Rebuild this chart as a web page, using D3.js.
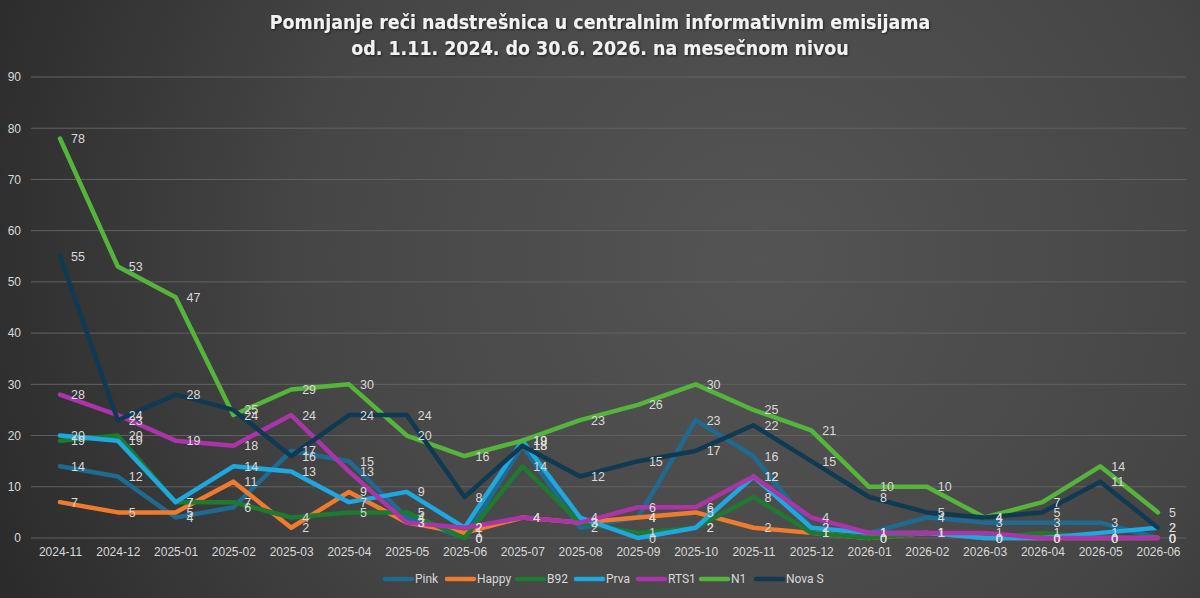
<!DOCTYPE html>
<html>
<head>
<meta charset="utf-8">
<script src="https://cdn.jsdelivr.net/npm/d3@7/dist/d3.min.js"></script>
<style>
html,body{margin:0;padding:0;background:#333;}
svg{display:block;}
</style>
</head>
<body>
<svg id="chart" width="1200" height="598"></svg>
<script>
const months = ["2024-11","2024-12","2025-01","2025-02","2025-03","2025-04","2025-05","2025-06","2025-07","2025-08","2025-09","2025-10","2025-11","2025-12","2026-01","2026-02","2026-03","2026-04","2026-05","2026-06"];
const yTicks = [0,10,20,30,40,50,60,70,80,90];
const seriesNames = ["Pink","Happy","B92","Prva","RTS1","N1","Nova S"];
const pink  = [14,12,4,6,17,15,4,0,18,2,4,23,16,2,1,4,3,3,3,0];
const happy = [7,5,5,11,2,9,3,1,4,3,4,5,2,1,0,1,0,0,0,0];
const b92   = [19,20,7,7,4,5,5,0,14,3,1,2,8,1,0,1,0,1,0,0];
const prva  = [20,19,7,14,13,7,9,2,19,4,0,2,12,2,1,1,0,0,1,2];
const rts1  = [28,24,19,18,24,13,3,2,4,3,6,6,12,4,1,1,1,0,0,0];
const n1    = [78,53,47,24,29,30,20,16,19,23,26,30,25,21,10,10,4,7,14,5];
const novaS = [55,23,28,25,16,24,24,8,18,12,15,17,22,15,8,5,4,5,11,2];
const seriesValues = [pink,happy,b92,prva,rts1,n1,novaS];
const colors = ["#1f6a91","#ef7b2e","#1d7a30","#1fa8df","#aa35a8","#55b53a","#103a52"];

const W = 1200, H = 598;
const svg = d3.select("#chart");

// background
const defs = svg.append("defs");
const rg = defs.append("radialGradient").attr("id","bg")
  .attr("gradientUnits","userSpaceOnUse")
  .attr("cx",760).attr("cy",260).attr("r",820);
rg.append("stop").attr("offset","0%").attr("stop-color","#545454");
rg.append("stop").attr("offset","55%").attr("stop-color","#464646");
rg.append("stop").attr("offset","100%").attr("stop-color","#2b2b2b");
svg.append("rect").attr("width",W).attr("height",H).attr("fill","url(#bg)");

const shadow = defs.append("filter").attr("id","tshadow");
shadow.append("feDropShadow").attr("dx",1).attr("dy",1).attr("stdDeviation",1).attr("flood-color","#000").attr("flood-opacity",0.6);

// title
const title = svg.append("text").attr("x",600).attr("text-anchor","middle")
  .attr("fill","#f2f2f2").attr("font-family","'DejaVu Sans Condensed','DejaVu Sans',sans-serif")
  .attr("font-weight","bold").attr("font-size",19.4).attr("filter","url(#tshadow)");
title.append("tspan").attr("x",600).attr("y",29).text("Pomnjanje reči nadstrešnica u centralnim informativnim emisijama");
title.append("tspan").attr("x",600).attr("y",55).text("od. 1.11. 2024. do 30.6. 2026. na mesečnom nivou");

// scales
const x = d3.scalePoint().domain(months).range([60,1158]);
const y = d3.scaleLinear().domain([0,90]).range([538,77]);

// gridlines
svg.append("g").selectAll("line").data(yTicks).join("line")
  .attr("x1",31).attr("x2",1186)
  .attr("y1",d=>y(d)).attr("y2",d=>y(d))
  .attr("stroke","#626262").attr("stroke-width",1);

// y axis
const yAxis = d3.axisLeft(y).tickValues(yTicks).tickSize(0).tickPadding(0);
const gy = svg.append("g").attr("transform","translate(21,0)").call(yAxis);
gy.select(".domain").remove();
gy.selectAll("text").attr("fill","#d9d9d9").attr("font-family","'Liberation Sans',Arial,sans-serif").attr("font-size",12);

// x axis
const xAxis = d3.axisBottom(x).tickSize(0).tickPadding(0);
const gx = svg.append("g").attr("transform","translate(0,547)").call(xAxis);
gx.select(".domain").remove();
gx.selectAll("text").attr("fill","#d9d9d9").attr("font-family","'Liberation Sans',Arial,sans-serif").attr("font-size",12);

// lines
const line = d3.line().x((d,i)=>x(months[i])).y(d=>y(d));
const gl = svg.append("g");
seriesValues.forEach((vals,si)=>{
  gl.append("path").datum(vals).attr("d",line)
    .attr("fill","none").attr("stroke",colors[si]).attr("stroke-width",4.5)
    .attr("stroke-linejoin","round").attr("stroke-linecap","round");
});

// labels
const glab = svg.append("g");
seriesValues.forEach((vals,si)=>{
  glab.selectAll(null).data(vals).join("text")
    .attr("x",(d,i)=>x(months[i])+11)
    .attr("y",d=>y(d)+4.5)
    .attr("fill","#d9d9d9")
    .attr("font-family","'Liberation Sans',Arial,sans-serif")
    .attr("font-size",12.5)
    .text(d=>d);
});

// legend
const legendX = [385,447,517,576,638,701,756];
const lg = svg.append("g");
seriesNames.forEach((name,i)=>{
  lg.append("line").attr("x1",legendX[i]).attr("x2",legendX[i]+27)
    .attr("y1",579).attr("y2",579).attr("stroke",colors[i]).attr("stroke-width",4.5)
    .attr("stroke-linecap","round");
  lg.append("text").attr("x",legendX[i]+30).attr("y",583)
    .attr("fill","#d9d9d9").attr("font-family","Roboto,'Liberation Sans',sans-serif")
    .attr("font-size",12).text(name);
});
</script>
</body>
</html>
